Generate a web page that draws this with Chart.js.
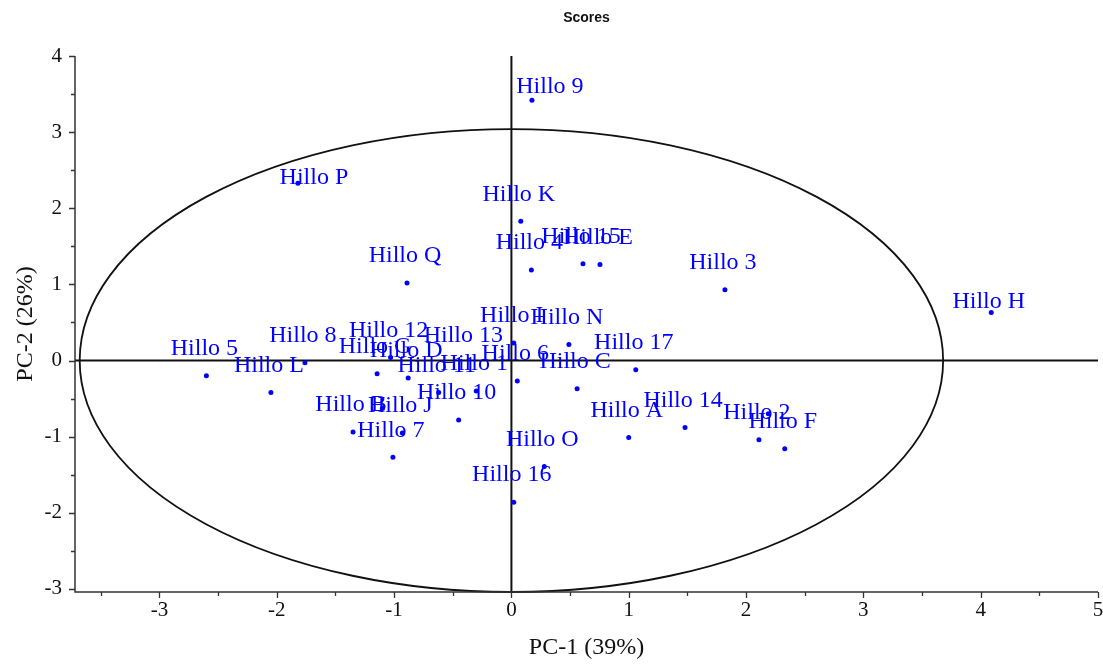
<!DOCTYPE html>
<html><head><meta charset="utf-8">
<script src="https://cdn.jsdelivr.net/npm/chart.js@4/dist/chart.umd.min.js"></script>
<style>html,body{margin:0;padding:0;background:#fff}canvas{display:block}</style>
</head><body>
<canvas id="c" width="1103" height="664"></canvas>
<script>
// ---- data ----
const chartTitle = 'Scores';
const xAxisTitle = 'PC-1 (39%)';
const yAxisTitle = 'PC-2 (26%)';
const sampleNames = ['Hillo 9','Hillo P','Hillo K','Hillo 4','Hillo 15','Hillo E','Hillo 3','Hillo H','Hillo Q','Hillo 5','Hillo L','Hillo 8','Hillo G','Hillo 12','Hillo D','Hillo 11','Hillo 1','Hillo 10','Hillo I','Hillo 6','Hillo N','Hillo C','Hillo 17','Hillo A','Hillo 14','Hillo 2','Hillo F','Hillo B','Hillo J','Hillo 13','Hillo 7','Hillo O','Hillo 16','Hillo M'];
const pc1 = [0.175,-1.82,0.08,0.17,0.61,0.755,1.82,4.09,-0.89,-2.60,-2.05,-1.76,-1.145,-1.03,-0.88,-0.62,-0.30,-0.45,0.02,0.05,0.49,0.56,1.06,1.00,1.48,2.11,2.33,-1.35,-0.93,-1.10,-1.01,0.28,0.02,2.19];
const pc2 = [3.42,2.33,1.83,1.19,1.27,1.26,0.93,0.63,1.02,-0.20,-0.42,-0.03,-0.175,0.04,-0.23,-0.42,-0.40,-0.78,0.23,-0.27,0.21,-0.37,-0.12,-1.01,-0.88,-1.04,-1.16,-0.94,-0.95,-0.63,-1.27,-1.39,-1.86,-0.70];
const xTicks = [-3,-2,-1,0,1,2,3,4,5];
const yTicks = [-3,-2,-1,0,1,2,3,4];
const ellipseRadiusX = 3.68;
const ellipseRadiusY = 3.04;

// ---- label placement (pixels, relative to the point) ----
const defaultLabelOffset = [-2, -27];
const labelOffsets = { 'Hillo 9': [18, -13], 'Hillo H': [-2.5, -11], 'Hillo P': [16, -5], 'Hillo 13': [81, -73], 'Hillo M': null };

const serif = '"Liberation Serif", "Times New Roman", serif';
const blue = '#0000ff';

const decor = {
  id: 'decor',
  beforeDatasetsDraw(chart) {
    const { ctx, chartArea: a, scales: { x, y } } = chart;
    ctx.save();
    const cx = x.getPixelForValue(0), cy = y.getPixelForValue(0);
    const rx = x.getPixelForValue(ellipseRadiusX) - cx;
    const ry = cy - y.getPixelForValue(ellipseRadiusY);
    ctx.strokeStyle = '#111';
    ctx.lineWidth = 1.8;
    ctx.beginPath(); ctx.ellipse(cx, cy, rx, ry, 0, 0, Math.PI * 2); ctx.stroke();
    ctx.lineWidth = 2;
    ctx.beginPath();
    ctx.moveTo(a.left, cy); ctx.lineTo(a.right, cy);
    ctx.moveTo(cx, a.top); ctx.lineTo(cx, a.bottom);
    ctx.stroke();
    // axes lines
    ctx.strokeStyle = '#333';
    ctx.lineWidth = 1.5;
    ctx.beginPath();
    ctx.moveTo(a.left, a.top); ctx.lineTo(a.left, a.bottom); ctx.lineTo(a.right, a.bottom);
    ctx.stroke();
    // tick marks (major at integers, minor at halves)
    ctx.lineWidth = 1.3;
    ctx.beginPath();
    for (let v = Math.ceil(x.min * 2) / 2; v <= x.max + 1e-9; v += 0.5) {
      const px = Math.round(x.getPixelForValue(v)) + 0.5;
      const len = Number.isInteger(v) ? 6 : 4;
      ctx.moveTo(px, a.bottom); ctx.lineTo(px, a.bottom + len);
    }
    for (let v = Math.ceil(y.min * 2) / 2; v <= y.max + 1e-9; v += 0.5) {
      const py = Math.round(y.getPixelForValue(v)) + 0.5;
      const len = Number.isInteger(v) ? 6 : 4;
      ctx.moveTo(a.left, py); ctx.lineTo(a.left - len, py);
    }
    ctx.stroke();
    ctx.restore();
  },
  afterDatasetsDraw(chart) {
    const { ctx, scales: { x, y } } = chart;
    ctx.save();
    ctx.font = '24px ' + serif;
    ctx.fillStyle = blue;
    ctx.textAlign = 'center';
    ctx.textBaseline = 'middle';
    sampleNames.forEach((name, i) => {
      const off = (name in labelOffsets) ? labelOffsets[name] : defaultLabelOffset;
      if (!off) return;
      ctx.fillText(name, x.getPixelForValue(pc1[i]) + off[0], y.getPixelForValue(pc2[i]) + off[1]);
    });
    ctx.restore();
  },
  afterDraw(chart) {
    const { ctx, chartArea: a } = chart;
    ctx.save();
    ctx.fillStyle = '#111';
    ctx.textAlign = 'center';
    ctx.textBaseline = 'middle';
    ctx.font = 'bold 14px "Liberation Sans", Arial, sans-serif';
    ctx.fillText(chartTitle, (a.left + a.right) / 2, 18);
    ctx.font = '24px ' + serif;
    ctx.fillText(xAxisTitle, (a.left + a.right) / 2, 648);
    ctx.translate(26, (a.top + a.bottom) / 2);
    ctx.rotate(-Math.PI / 2);
    ctx.fillText(yAxisTitle, 0, 0);
    ctx.restore();
  }
};

new Chart(document.getElementById('c'), {
  type: 'scatter',
  data: {
    datasets: [{
      data: sampleNames.map((n, i) => ({ x: pc1[i], y: pc2[i] })),
      backgroundColor: blue,
      borderColor: blue,
      borderWidth: 0,
      pointRadius: 2.5,
      pointHoverRadius: 2.5
    }]
  },
  options: {
    responsive: false,
    animation: false,
    devicePixelRatio: 1,
    layout: { padding: { top: 56, right: 5, left: 0, bottom: 0 } },
    plugins: { legend: { display: false }, tooltip: { enabled: false }, title: { display: false } },
    scales: {
      x: {
        type: 'linear', min: -3.72, max: 5,
        grid: { display: false, drawTicks: false }, border: { display: false },
        afterBuildTicks(s) { s.ticks = xTicks.map(v => ({ value: v })); },
        ticks: { padding: 6, maxRotation: 0, color: '#111', font: { family: serif, size: 21 } },
        afterFit(s) { s.height = 72; s.paddingRight = 0; s.paddingLeft = 0; }
      },
      y: {
        type: 'linear', min: -3.04, max: 4,
        grid: { display: false, drawTicks: false }, border: { display: false },
        afterBuildTicks(s) { s.ticks = yTicks.map(v => ({ value: v })); },
        ticks: { padding: 13, color: '#111', font: { family: serif, size: 21 } },
        afterFit(s) { s.width = 75; s.paddingTop = 0; s.paddingBottom = 0; }
      }
    }
  },
  plugins: [decor]
});
</script>
</body></html>
